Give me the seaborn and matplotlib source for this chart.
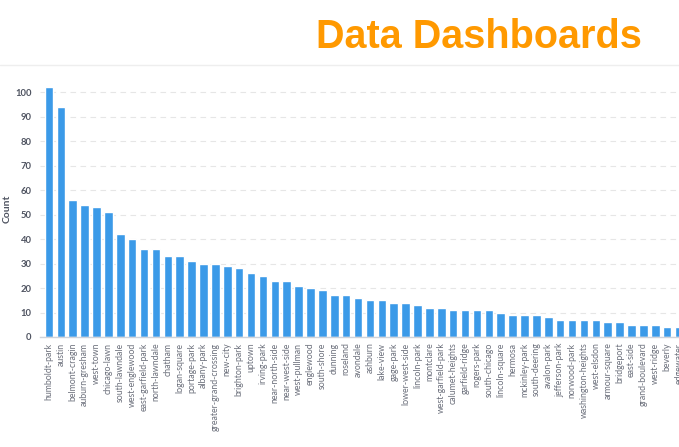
import matplotlib
matplotlib.use("Agg")
import matplotlib.pyplot as plt
import seaborn as sns
import pandas as pd

neighborhoods = [
    "humboldt-park", "austin", "belmont-cragin", "auburn-gresham", "west-town",
    "chicago-lawn", "south-lawndale", "west-englewood", "east-garfield-park",
    "north-lawndale", "chatham", "logan-square", "portage-park", "albany-park",
    "greater-grand-crossing", "new-city", "brighton-park", "uptown", "irving-park",
    "near-north-side", "near-west-side", "west-pullman", "englewood", "south-shore",
    "dunning", "roseland", "avondale", "ashburn", "lake-view", "gage-park",
    "lower-west-side", "lincoln-park", "montclare", "west-garfield-park",
    "calumet-heights", "garfield-ridge", "rogers-park", "south-chicago",
    "lincoln-square", "hermosa", "mckinley-park", "south-deering", "avalon-park",
    "jefferson-park", "norwood-park", "washington-heights", "west-elsdon",
    "armour-square", "bridgeport", "east-side", "grand-boulevard", "west-ridge",
    "beverly", "edgewater",
]
counts = [
    102, 94, 56, 54, 53, 51, 42, 40, 36, 36, 33, 33, 31, 30, 30, 29, 28, 26, 25,
    23, 23, 21, 20, 19, 17, 17, 16, 15, 15, 14, 14, 13, 12, 12, 11, 11, 11, 11,
    10, 9, 9, 9, 8, 7, 7, 7, 7, 6, 6, 5, 5, 5, 4, 4,
]
y_ticks = [0, 10, 20, 30, 40, 50, 60, 70, 80, 90, 100]

df = pd.DataFrame({"neighborhood": neighborhoods, "count": counts})

sns.set_theme(style="white")
plt.rcParams["font.family"] = ["Lato", "DejaVu Sans"]

fig = plt.figure(figsize=(6.79, 4.47), dpi=100)
fig.patch.set_facecolor("white")
ax = fig.add_axes([40 / 679, 110 / 447, 639.2 / 679, 257 / 447])

sns.barplot(data=df, x="neighborhood", y="count", color="#3b9ae8",
            saturation=1, width=0.72, ax=ax)

ax.set_xlim(-0.757, 53.01)
ax.set_ylim(0, 105)
ax.set_yticks(y_ticks)
ax.set_yticklabels([str(v) for v in y_ticks], fontsize=6.8, color="#4f5461",
                   fontweight="bold")
ax.tick_params(axis="y", length=0, pad=6)
ax.tick_params(axis="x", length=0, pad=4)
for lbl in ax.get_xticklabels():
    lbl.set_rotation(90)
    lbl.set_fontsize(6.3)
    lbl.set_color("#6b6f7b")

ax.yaxis.grid(True, color="#e6e6e6", linestyle=(0, (5, 4)), linewidth=0.8)
ax.set_axisbelow(True)
for s in ["top", "right", "left"]:
    ax.spines[s].set_visible(False)
ax.spines["bottom"].set_color("#cfd3da")
ax.spines["bottom"].set_linewidth(1)

ax.set_xlabel("")
ax.set_ylabel("Count", fontsize=7.5, fontweight="bold", color="#4f5461")
ax.yaxis.set_label_coords(-28 / 639.2, 0.5)

# header
fig.text(479 / 679, 1 - 37 / 447, "Data Dashboards", color="#ff9900",
         fontsize=28.5, fontweight="bold", family=["Liberation Sans", "DejaVu Sans"],
         ha="center", va="center")
fig.add_artist(plt.Line2D([0, 1], [1 - 65 / 447, 1 - 65 / 447],
                          color="#eeeeee", linewidth=1, transform=fig.transFigure))

fig.savefig("out.png", dpi=100, facecolor="white")
